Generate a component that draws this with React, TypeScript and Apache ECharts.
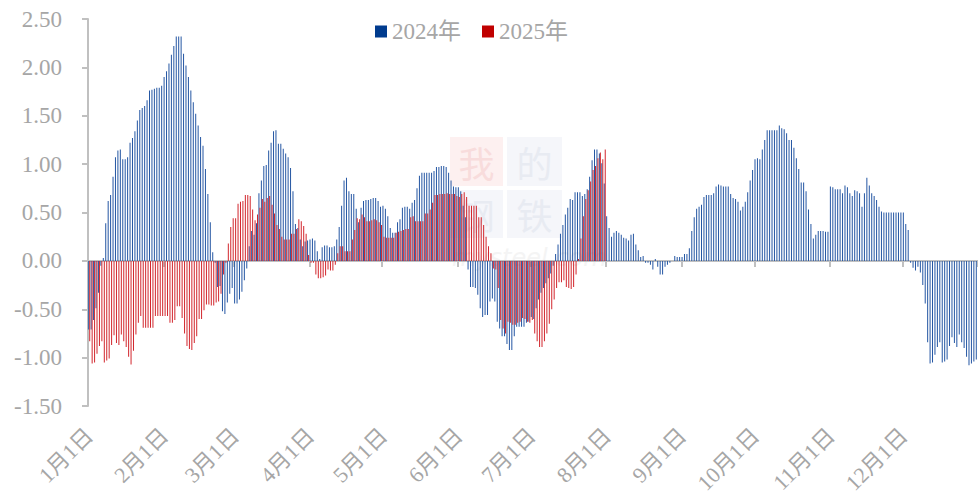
import React, { useEffect, useRef } from "react";
import * as echarts from "echarts";

// ---- data ----
const monthDays = [31, 29, 31, 30, 31, 30, 31, 31, 30, 31, 30, 31];
const yTicks = [-1.5, -1.0, -0.5, 0, 0.5, 1.0, 1.5, 2.0, 2.5];
const seriesNames = ["2024年", "2025年"];

const values2024 = [
  // Jan
  -0.71, -0.71, -0.61, -0.49, -0.33, -0.05, 0.03, 0.39, 0.62, 0.68,
  0.87, 1.07, 1.14, 1.15, 1.05, 1.05, 1.07, 1.22, 1.27, 1.34,
  1.45, 1.56, 1.58, 1.6, 1.66, 1.76, 1.77, 1.78, 1.79, 1.79,
  1.81,
  // Feb
  1.9, 1.96, 2.04, 2.13, 2.22, 2.32, 2.32, 2.32, 2.14,
  2.02, 1.9, 1.76, 1.64, 1.52, 1.4, 1.28, 1.19, 0.95, 0.69,
  0.4, 0.09, -0.02, -0.27, -0.26, -0.52, -0.55, -0.43, -0.34, -0.28,
  // Mar
  -0.44, -0.44, -0.4, -0.32, -0.2, -0.08, 0.15, 0.31, 0.27, 0.39,
  0.7, 0.83, 0.98, 0.99, 1.14, 1.22, 1.34, 1.35, 1.21, 1.21,
  1.16, 1.11, 1.07, 0.96, 0.72, 0.38, 0.34, 0.22, 0.15, 0.2,
  0.21,
  // Apr
  0.22, 0.23, 0.21, 0.1, 0.02, 0.14, 0.16, 0.16, 0.14,
  0.14, 0.15, 0.22, 0.35, 0.57, 0.83, 0.86, 0.72, 0.69, 0.69,
  0.54, 0.4, 0.55, 0.62, 0.63, 0.63, 0.64, 0.65, 0.65, 0.62,
  0.56,
  // May
  0.57, 0.54, 0.46, 0.34, 0.29, 0.29, 0.4, 0.43, 0.55,
  0.56, 0.56, 0.54, 0.6, 0.63, 0.75, 0.88, 0.91, 0.91, 0.91,
  0.91, 0.91, 0.93, 0.97, 0.97, 0.98, 0.98, 0.97, 0.91, 0.83,
  0.77, 0.76,
  // Jun
  0.76, 0.72, 0.57, 0.45, -0.09, -0.27, -0.27, -0.28,
  -0.35, -0.49, -0.58, -0.56, -0.56, -0.42, -0.39, -0.42, -0.63, -0.7,
  -0.78, -0.78, -0.86, -0.92, -0.92, -0.78, -0.68, -0.68, -0.68, -0.68,
  -0.64, -0.63,
  // Jul
  -0.58, -0.6, -0.49, -0.4, -0.33, -0.28, -0.23, -0.18,
  -0.13, -0.05, 0.07, 0.17, 0.28, 0.37, 0.48, 0.55, 0.64, 0.63,
  0.71, 0.71, 0.71, 0.67, 0.69, 0.74, 0.87, 1.04, 1.15, 1.15,
  1.11, 1.01, 0.8,
  // Aug
  0.46, 0.34, 0.25, 0.29, 0.31, 0.29, 0.27,
  0.24, 0.23, 0.21, 0.27, 0.28, 0.17, 0.11, 0.04, 0.05, -0.02,
  -0.02, -0.04, -0.09, 0.02, -0.06, -0.14, -0.14, -0.06, -0.04, -0.02,
  0.0, 0.05, 0.04, 0.04,
  // Sep
  0.04, 0.07, 0.07, 0.13, 0.31, 0.45, 0.54, 0.56, 0.58,
  0.66, 0.68, 0.68, 0.68, 0.7, 0.77, 0.79, 0.78, 0.77, 0.77,
  0.77, 0.69, 0.65, 0.64, 0.61, 0.52, 0.56, 0.61, 0.71, 0.83,
  0.94,
  // Oct
  1.05, 1.06, 1.05, 1.15, 1.25, 1.35, 1.35, 1.35, 1.35,
  1.35, 1.4, 1.37, 1.36, 1.32, 1.25, 1.25, 1.17, 1.06, 0.95,
  0.81, 0.81, 0.72, 0.53, 0.38, 0.23, 0.27, 0.31, 0.31, 0.31,
  0.3, 0.3,
  // Nov
  0.77, 0.76, 0.74, 0.74, 0.74, 0.7, 0.78, 0.76, 0.7,
  0.67, 0.73, 0.72, 0.7, 0.56, 0.7, 0.86, 0.78, 0.7, 0.67,
  0.63, 0.56, 0.51, 0.5, 0.5, 0.5, 0.5, 0.5, 0.5, 0.5,
  0.5,
  // Dec
  0.5, 0.38, 0.32, -0.02, -0.07, -0.1, -0.06, -0.12, -0.25,
  -0.44, -0.84, -1.06, -1.05, -0.97, -0.89, -0.84, -1.05, -1.04, -1.02,
  -0.88, -0.79, -0.85, -0.89, -0.76, -0.84, -0.9, -0.99, -1.08, -1.06,
  -1.04, -1.02,
];

const values2025 = [
  // Jan
  -0.83, -1.06, -1.05, -0.96, -0.88, -0.83, -1.05, -1.03, -1.01, -0.87,
  -0.77, -0.85, -0.87, -0.76, -0.83, -0.89, -0.99, -1.07, -0.93, -0.76,
  -0.64, -0.57, -0.69, -0.69, -0.69, -0.69, -0.69, -0.57, -0.57, -0.57,
  -0.57,
  // Feb
  -0.57, -0.57, -0.64, -0.64, -0.61, -0.47, -0.47, -0.59, -0.75,
  -0.88, -0.91, -0.92, -0.85, -0.78, -0.6, -0.6, -0.51, -0.45, -0.45,
  -0.46, -0.46, -0.43, -0.42, -0.34, -0.14, -0.02, 0.18, 0.35, 0.44,
  // Mar
  0.44, 0.59, 0.61, 0.62, 0.68, 0.68, 0.67, 0.53, 0.42, 0.48,
  0.55, 0.64, 0.61, 0.65, 0.67, 0.58, 0.49, 0.37, 0.33, 0.25,
  0.22, 0.22, 0.22, 0.28, 0.28, 0.33, 0.43, 0.41, 0.36, 0.28,
  0.06,
  // Apr
  -0.02, -0.02, -0.14, -0.18, -0.18, -0.17, -0.15, -0.09, -0.1,
  -0.1, -0.04, 0.08, 0.15, 0.15, 0.1, 0.1, 0.1, 0.22, 0.32,
  0.44, 0.43, 0.48, 0.45, 0.41, 0.41, 0.42, 0.43, 0.42, 0.4,
  0.37,
  // May
  0.25, 0.24, 0.24, 0.24, 0.24, 0.29, 0.3, 0.31, 0.32,
  0.33, 0.33, 0.45, 0.46, 0.41, 0.41, 0.41, 0.41, 0.49, 0.49,
  0.53, 0.6, 0.68, 0.68, 0.69, 0.69, 0.69, 0.7, 0.69, 0.69,
  0.69, 0.67,
  // Jun
  0.66, 0.69, 0.71, 0.66, 0.57, 0.57, 0.57, 0.57,
  0.45, 0.45, 0.37, 0.25, 0.15, 0.08, -0.08, -0.09, -0.28, -0.61,
  -0.7, -0.75, -0.63, -0.64, -0.66, -0.66, -0.64, -0.63, -0.59, -0.6,
  -0.63, -0.64,
  // Jul
  -0.61, -0.75, -0.83, -0.89, -0.89, -0.83, -0.75, -0.65,
  -0.5, -0.4, -0.28, -0.22, -0.22, -0.2, -0.27, -0.28, -0.29, -0.27,
  -0.14, 0.02, 0.23, 0.46, 0.64, 0.73, 0.82, 0.94, 0.98, 1.06,
  1.12, 1.05, 1.15,
];

const categories: string[] = [];
monthDays.forEach((n, m) => {
  for (let d = 1; d <= n; d++) categories.push(`${m + 1}月${d}日`);
});
const isMonthStart = (i: number) => /月1日$/.test(categories[i]) && !/月[123]1日$/.test(categories[i]);

const BLUE = "#2456a3";
const RED = "#d2262d";
const GRAY_TEXT = "#a6a6a6";
const AXIS_GRAY = "#c0c0c0";
const SERIF = "'Liberation Serif', 'Times New Roman', 'Noto Sans CJK SC', serif";

export default function App() {
  const ref = useRef<HTMLDivElement>(null);
  useEffect(() => {
    if (!ref.current) return;
    const chart = echarts.init(ref.current, undefined, { renderer: "svg" });
    const wm = (x: number, y: number, w: number, h: number, ch: string, bg: string, fg: string) => ({
      type: "group",
      z: 0,
      children: [
        { type: "rect", shape: { x, y, width: w, height: h }, style: { fill: bg }, z: 0 },
        {
          type: "text",
          x: x + w / 2,
          y: y + h / 2,
          z: 0,
          style: { text: ch, fill: fg, font: "36px 'Noto Sans CJK SC'", align: "center", verticalAlign: "middle" },
        },
      ],
    });
    chart.setOption({
      animation: false,
      backgroundColor: "#ffffff",
      grid: { left: 88, top: 19, bottom: 92, right: -6, containLabel: false },
      legend: {
        data: seriesNames.map((n, i) => ({ name: n, itemStyle: { color: i === 0 ? "#003b8e" : "#c00000" } })),
        left: 370,
        top: 15,
        icon: "rect",
        itemWidth: 12,
        itemHeight: 12,
        itemGap: 21,
        textStyle: { fontSize: 23, color: GRAY_TEXT, fontFamily: SERIF },
      },
      graphic: [
        wm(450, 137, 53, 49, "我", "#fdf0f0", "#f8dcdc"),
        wm(507, 137, 55, 49, "的", "#f5f6fa", "#e8ebf2"),
        wm(450, 190, 53, 48, "钢", "#f5f6fa", "#e8ebf2"),
        wm(507, 190, 55, 48, "铁", "#f5f6fa", "#e8ebf2"),
        {
          type: "text",
          x: 452,
          y: 246,
          z: 0,
          style: { text: "mysteel.com", fill: "#f4f4f4", font: "italic 24px 'DejaVu Sans'" },
        },
      ],
      xAxis: [
        {
          type: "category",
          data: categories,
          position: "bottom",
          boundaryGap: true,
          axisLine: { show: false, onZero: false },
          axisTick: { show: false },
          axisLabel: {
            interval: (i: number) => isMonthStart(i),
            rotate: 45,
            margin: 26,
            fontSize: 22,
            color: GRAY_TEXT,
            fontFamily: SERIF,
          },
          splitLine: { show: false },
        },
        {
          type: "category",
          data: categories,
          position: "bottom",
          boundaryGap: true,
          axisLine: { show: true, onZero: true, lineStyle: { color: AXIS_GRAY, width: 2 } },
          axisTick: {
            show: true,
            interval: (i: number) => isMonthStart(i) && i > 0,
            length: 6,
            lineStyle: { color: AXIS_GRAY, width: 2 },
          },
          axisLabel: { show: false },
          splitLine: { show: false },
        },
      ],
      yAxis: {
        type: "value",
        min: yTicks[0],
        max: yTicks[yTicks.length - 1],
        interval: 0.5,
        axisLine: { show: true, lineStyle: { color: AXIS_GRAY, width: 2 } },
        axisTick: { show: true, length: 6, lineStyle: { color: AXIS_GRAY, width: 2 } },
        axisLabel: {
          formatter: (v: number) => v.toFixed(2),
          fontSize: 23,
          color: GRAY_TEXT,
          fontFamily: SERIF,
          margin: 26,
        },
        splitLine: { show: false },
      },
      series: [
        {
          name: seriesNames[0],
          type: "bar",
          xAxisIndex: 0,
          data: values2024,
          barWidth: 1,
          barGap: "0%",
          itemStyle: { color: BLUE },
          z: 3,
        },
        {
          name: seriesNames[1],
          type: "bar",
          xAxisIndex: 0,
          data: values2025,
          barWidth: 1,
          barGap: "0%",
          itemStyle: { color: RED },
          z: 3,
        },
      ],
    });
    return () => chart.dispose();
  }, []);
  return (
    <div style={{ position: "fixed", left: 0, top: 0, width: 978, height: 498, overflow: "hidden", background: "#fff" }}>
      <div ref={ref} style={{ width: 978, height: 498 }} />
    </div>
  );
}
